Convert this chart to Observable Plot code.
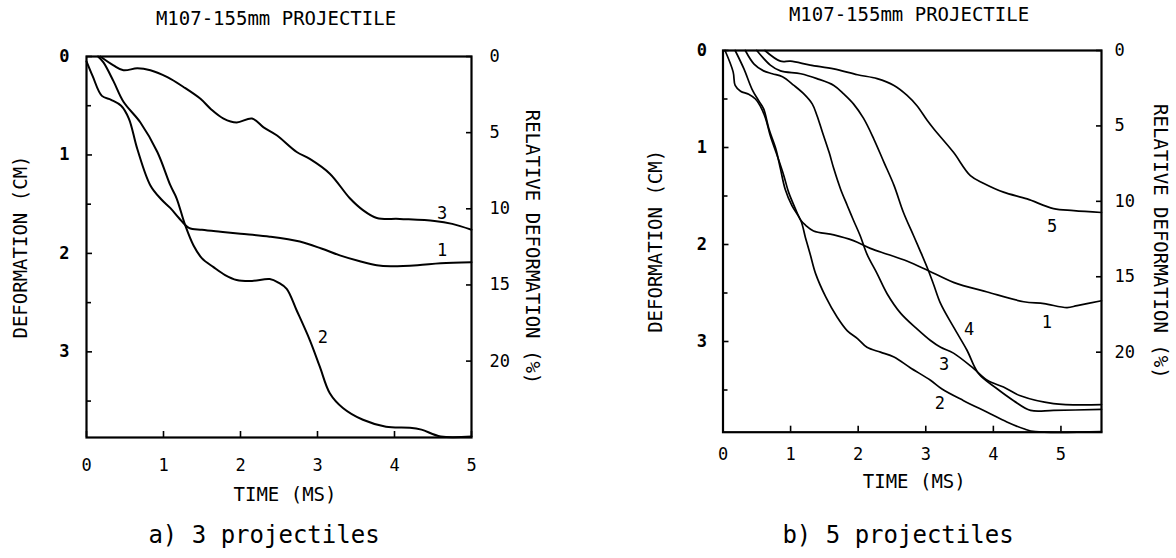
<!DOCTYPE html>
<html><head><meta charset="utf-8">
<script src="https://cdn.jsdelivr.net/npm/d3@7"></script>
<script src="https://cdn.jsdelivr.net/npm/@observablehq/plot@0.6"></script>
<style>
body{margin:0;background:#fff;}
#root{position:relative;width:1176px;height:558px;overflow:hidden;font-family:"DejaVu Sans Mono",monospace;color:#000;background:#fff;}
.t{position:absolute;white-space:nowrap;transform:translate(-50%,-50%);line-height:1;}
.p{position:absolute;top:0;}
</style></head><body><div id="root"></div>
<script>
// ---------- shared texts ----------
const titleText = "M107-155mm PROJECTILE";
const xLabel = "TIME (MS)";
const yLabelLeft = "DEFORMATION (CM)";
const yLabelRight = "RELATIVE DEFORMATION (%)";
const captionA = "a) 3 projectiles";
const captionB = "b) 5 projectiles";

// ---------- Panel a: 3 projectiles ----------
const aXTicks = [0, 1, 2, 3, 4, 5];
const aLeftTicks = [0, 1, 2, 3];
const aLeftMinor = [0.5, 1.5, 2.5, 3.5];
const aRightTicks = [0, 5, 10, 15, 20];

const a1_t = [0, 0.08, 0.2, 0.32, 0.45, 0.55, 0.66, 0.83, 0.97, 1.09, 1.2, 1.33, 1.5, 1.74, 2.0, 2.38, 2.77, 3.05, 3.29, 3.55, 3.77, 3.95, 4.3, 4.6, 5.0];
const a1_d = [0.05, 0.2, 0.4, 0.44, 0.5, 0.63, 0.94, 1.31, 1.45, 1.54, 1.64, 1.74, 1.76, 1.78, 1.80, 1.83, 1.88, 1.95, 2.02, 2.08, 2.12, 2.13, 2.12, 2.10, 2.09];
const a2_t = [0.15, 0.22, 0.35, 0.48, 0.7, 0.92, 1.09, 1.17, 1.28, 1.39, 1.5, 1.65, 1.8, 1.95, 2.15, 2.38, 2.5, 2.6, 2.73, 2.9, 3.03, 3.16, 3.33, 3.59, 3.89, 4.2, 4.35, 4.6, 5.0];
const a2_d = [0.0, 0.06, 0.25, 0.46, 0.67, 0.97, 1.31, 1.44, 1.71, 1.92, 2.05, 2.14, 2.22, 2.27, 2.28, 2.26, 2.30, 2.36, 2.58, 2.88, 3.15, 3.42, 3.57, 3.69, 3.76, 3.77, 3.79, 3.86, 3.86];
const a3_t = [0.18, 0.35, 0.48, 0.66, 0.83, 1.05, 1.26, 1.48, 1.61, 1.78, 1.95, 2.15, 2.3, 2.47, 2.73, 2.9, 3.16, 3.42, 3.59, 3.77, 4.07, 4.52, 4.75, 5.0];
const a3_d = [0.0, 0.09, 0.14, 0.12, 0.14, 0.21, 0.31, 0.43, 0.53, 0.63, 0.67, 0.63, 0.72, 0.80, 0.97, 1.04, 1.19, 1.44, 1.56, 1.64, 1.65, 1.67, 1.70, 1.76];
const aLabelText = ["3", "1", "2"];
const aLabelT = [4.62, 4.62, 3.07];
const aLabelD = [1.60, 1.97, 2.85];

// ---------- Panel b: 5 projectiles ----------
const bXTicks = [0, 1, 2, 3, 4, 5];
const bLeftTicks = [0, 1, 2, 3];
const bLeftMinor = [0.5, 1.5, 2.5, 3.5];
const bRightTicks = [0, 5, 10, 15, 20];

const b1_t = [0.03, 0.15, 0.18, 0.26, 0.38, 0.48, 0.55, 0.63, 0.70, 0.80, 0.90, 0.97, 1.07, 1.15, 1.22, 1.34, 1.64, 1.93, 2.18, 2.43, 2.72, 3.04, 3.41, 3.91, 4.45, 4.75, 5.09, 5.24, 5.6];
const b1_d = [0.0, 0.22, 0.36, 0.42, 0.45, 0.50, 0.57, 0.70, 0.88, 1.08, 1.29, 1.46, 1.63, 1.75, 1.80, 1.86, 1.90, 1.96, 2.04, 2.10, 2.17, 2.27, 2.39, 2.49, 2.59, 2.61, 2.65, 2.63, 2.58];
const b2_t = [0.18, 0.31, 0.43, 0.53, 0.60, 0.68, 0.78, 0.85, 0.92, 1.02, 1.15, 1.22, 1.29, 1.37, 1.52, 1.69, 1.84, 1.99, 2.13, 2.33, 2.53, 2.77, 3.07, 3.24, 3.56, 3.91, 4.2, 4.45, 4.62, 5.6];
const b2_d = [0.0, 0.19, 0.40, 0.52, 0.60, 0.81, 1.01, 1.22, 1.43, 1.60, 1.75, 1.93, 2.10, 2.30, 2.54, 2.75, 2.89, 2.97, 3.06, 3.11, 3.16, 3.27, 3.40, 3.49, 3.61, 3.73, 3.83, 3.90, 3.93, 3.93];
const b3_t = [0.33, 0.46, 0.60, 0.73, 0.88, 1.05, 1.20, 1.32, 1.39, 1.47, 1.57, 1.64, 1.74, 1.84, 1.93, 2.03, 2.13, 2.28, 2.43, 2.63, 2.87, 3.07, 3.22, 3.41, 3.71, 3.91, 4.15, 4.40, 4.89, 5.6];
const b3_d = [0.0, 0.14, 0.21, 0.24, 0.27, 0.36, 0.45, 0.55, 0.67, 0.84, 1.05, 1.22, 1.43, 1.60, 1.75, 1.91, 2.10, 2.30, 2.51, 2.71, 2.87, 2.99, 3.06, 3.12, 3.28, 3.40, 3.47, 3.56, 3.64, 3.65];
const b4_t = [0.5, 0.70, 0.85, 1.15, 1.39, 1.64, 1.79, 1.93, 2.08, 2.23, 2.38, 2.53, 2.67, 2.82, 2.92, 3.04, 3.12, 3.22, 3.41, 3.61, 3.78, 4.06, 4.30, 4.55, 4.89, 5.6];
const b4_d = [0.0, 0.15, 0.21, 0.24, 0.29, 0.36, 0.45, 0.55, 0.70, 0.91, 1.15, 1.39, 1.67, 1.91, 2.07, 2.27, 2.42, 2.61, 2.85, 3.09, 3.33, 3.49, 3.61, 3.71, 3.71, 3.70];
const b5_t = [0.62, 0.85, 1.0, 1.29, 1.64, 1.99, 2.28, 2.53, 2.72, 2.87, 3.02, 3.12, 3.41, 3.66, 3.86, 4.15, 4.50, 4.89, 5.19, 5.6];
const b5_d = [0.0, 0.11, 0.11, 0.15, 0.19, 0.25, 0.29, 0.36, 0.46, 0.57, 0.72, 0.81, 1.05, 1.29, 1.37, 1.46, 1.53, 1.63, 1.65, 1.67];
const bLabelText = ["5", "1", "4", "3", "2"];
const bLabelT = [4.87, 4.79, 3.64, 3.27, 3.21];
const bLabelD = [1.82, 2.80, 2.88, 3.24, 3.64];

const FONT = "DejaVu Sans Mono, monospace";

function panel(o) {
  const lines = o.series.map(([t, d]) =>
    Plot.line(t.map((v, i) => ({t: v, d: d[i]})), {x: "t", y: "d", stroke: "#000", strokeWidth: o.lw, curve: "catmull-rom"}));
  const labels = o.labT.map((t, i) => ({t, d: o.labD[i], s: o.labS[i]}));
  return Plot.plot({
    width: o.width, height: o.height,
    marginLeft: o.mL, marginRight: o.mR, marginTop: o.mT, marginBottom: o.mB,
    style: {fontFamily: FONT, background: "transparent", color: "#000", overflow: "visible"},
    x: {domain: [0, o.xMax]},
    y: {domain: [0, o.yMax], reverse: true},
    marks: [
      ...lines,
      Plot.frame({stroke: "#000", strokeWidth: 2.2}),
      Plot.axisX({ticks: o.xTicks, tickSize: -6, tickPadding: o.xPad, fontSize: 17, label: null, tickFormat: d => String(d), strokeWidth: 1.6}),
      Plot.axisY({anchor: "left", ticks: o.leftTicks, tickSize: -6, tickPadding: o.lPad, fontSize: 17, fontWeight: "bold", label: null, tickFormat: d => String(d), strokeWidth: 1.6}),
      Plot.axisY({anchor: "left", ticks: o.leftMinor, tickSize: -5, tickFormat: () => "", label: null, strokeWidth: 1.6}),
      Plot.axisY({anchor: "right", ticks: o.rightTicks.map(p => p * o.k), tickSize: -6, tickPadding: o.rPad, fontSize: 17, label: null, tickFormat: d => String(Math.round(d / o.k)), strokeWidth: 1.6}),
      Plot.text(labels, {x: "t", y: "d", text: "s", fontSize: 17, fill: "#000"}),
      Plot.text([xLabel], {frameAnchor: "bottom", textAnchor: "middle", dy: o.xlDy, dx: o.xlDx, text: d => d, fontSize: 19, fill: "#000"}),
      Plot.text([yLabelLeft], {frameAnchor: "left", textAnchor: "middle", dx: o.ylDx, rotate: -90, text: d => d, fontSize: 19, fill: "#000"}),
      Plot.text([yLabelRight], {frameAnchor: "right", textAnchor: "middle", dx: o.yrDx, rotate: 90, text: d => d, fontSize: 19, fill: "#000"})
    ]
  });
}

const root = document.getElementById("root");

const A = panel({
  width: 580, height: 510, mL: 86, mR: 109, mT: 56, mB: 73,
  xMax: 5, yMax: 3.87, k: 0.1547,
  xTicks: aXTicks, leftTicks: aLeftTicks, leftMinor: aLeftMinor, rightTicks: aRightTicks,
  xPad: 27, lPad: 23, rPad: 24,
  series: [[a1_t, a1_d], [a2_t, a2_d], [a3_t, a3_d]], lw: 2,
  labT: aLabelT, labD: aLabelD, labS: aLabelText,
  xlDy: 63, xlDx: 6, ylDx: -66, yrDx: 61
});
A.classList.add("p"); A.style.left = "0px";
root.appendChild(A);

const B = panel({
  width: 586, height: 510, mL: 132.5, mR: 75, mT: 50, mB: 78.3,
  xMax: 5.6, yMax: 3.935, k: 0.1555,
  xTicks: bXTicks, leftTicks: bLeftTicks, leftMinor: bLeftMinor, rightTicks: bRightTicks,
  xPad: 22, lPad: 22, rPad: 19,
  series: [[b1_t, b1_d], [b2_t, b2_d], [b3_t, b3_d], [b4_t, b4_d], [b5_t, b5_d]], lw: 1.7,
  labT: bLabelT, labD: bLabelD, labS: bLabelText,
  xlDy: 56, xlDx: 2, ylDx: -67.5, yrDx: 59
});
B.classList.add("p"); B.style.left = "590px";
root.appendChild(B);

function addText(txt, x, y, size) {
  const d = document.createElement("div");
  d.className = "t";
  d.textContent = txt;
  d.style.left = x + "px"; d.style.top = y + "px"; d.style.fontSize = size + "px";
  root.appendChild(d);
}
addText(titleText, 276, 18, 19);
addText(titleText, 909, 14, 19);
addText(captionA, 264, 535, 24);
addText(captionB, 898, 535, 24);
</script></body></html>
